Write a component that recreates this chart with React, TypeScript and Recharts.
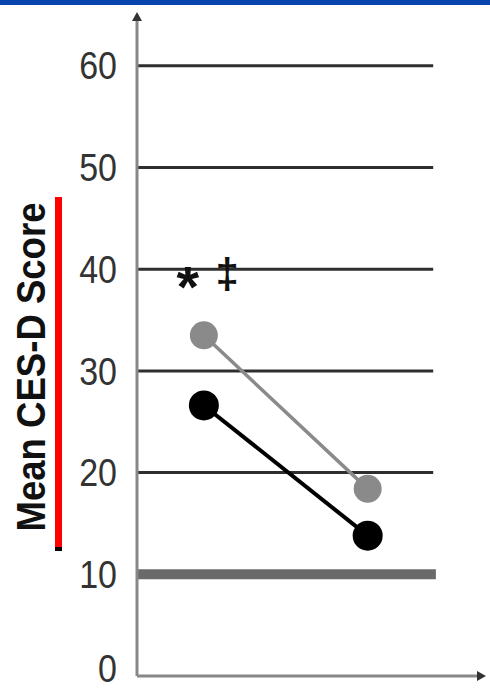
import { LineChart, Line, XAxis, YAxis, ReferenceLine, ReferenceDot } from "recharts";

// time points along the x axis (baseline, follow-up)
const timePoints = [1, 3.45];
const grayScores = [33.5, 18.4];
const blackScores = [26.6, 13.8];
const yTicks = [0, 10, 20, 30, 40, 50, 60];
const gridValues = [20, 30, 40, 50, 60];
const cutoffValue = 10;
const annotations = [
  { x: 0.76, y: 39.3, text: "*" },
  { x: 1.35, y: 39.3, text: "‡" },
];

const data = timePoints.map((t, i) => ({ t, gray: grayScores[i], black: blackScores[i] }));

const FONT = "'Liberation Sans', Arial, sans-serif";

const YTick = (props: any) => {
  const { x, y, payload } = props;
  // keep the bottom label inside the picture
  const ty = Math.min(y, 668);
  return (
    <text
      transform={`translate(${x},${ty}) scale(1,1.12)`}
      textAnchor="end"
      dy="0.36em"
      fontSize={34}
      fontFamily={FONT}
      fill="#333"
    >
      {payload.value}
    </text>
  );
};

const AxisTitle = () => (
  <g>
    <text
      transform="translate(45,367) rotate(-90)"
      textAnchor="middle"
      fontSize={41}
      fontWeight="bold"
      fontFamily={FONT}
      fill="#111"
      textLength={329}
      lengthAdjust="spacingAndGlyphs"
    >
      Mean CES-D Score
    </text>
    <rect x={55} y={197} width={7} height={351} fill="#ff0000" />
    <rect x={55} y={547} width={7} height={4} fill="#000" />
  </g>
);

const Mark = (text: string) => (p: any) => {
  const star = text === "*";
  return (
    <text
      x={p.cx}
      y={p.cy}
      dy={star ? 31 : 12}
      textAnchor="middle"
      fontSize={star ? 58 : 42}
      fontWeight="bold"
      fontFamily={FONT}
      fill="#111"
    >
      {text}
    </text>
  );
};

export default function App() {
  return (
    <div style={{ position: "fixed", left: 0, top: 0, width: 490, height: 689, background: "#fff" }}>
      <svg width={0} height={0} style={{ position: "absolute" }}>
        <defs>
          <marker id="arr" markerUnits="userSpaceOnUse" markerWidth={10} markerHeight={10} refX={1} refY={5} orient="auto-start-reverse">
            <path d="M0,0 L9,5 L0,10 Z" fill="#333" />
          </marker>
        </defs>
      </svg>
      <div style={{ height: 5, background: "#0645ad" }} />
      <div style={{ position: "absolute", left: 0, top: 0 }}>
        <LineChart width={490} height={689} data={data} margin={{ top: 20, right: 12, bottom: 0, left: 77 }}>
          <XAxis
            dataKey="t"
            type="number"
            domain={[0, 5.1]}
            tick={false}
            tickLine={false}
            height={13}
            axisLine={{ stroke: "#888", strokeWidth: 3, markerEnd: "url(#arr)" }}
          />
          <YAxis
            type="number"
            domain={[0, 64.5]}
            ticks={yTicks}
            width={60}
            tickLine={false}
            tickSize={0}
            tickMargin={20}
            tick={<YTick />}
            axisLine={{ stroke: "#888", strokeWidth: 3, markerStart: "url(#arr)" }}
            label={{ content: <AxisTitle /> }}
          />
          {gridValues.map((v) => (
            <ReferenceLine
              key={v}
              segment={[{ x: 0, y: v }, { x: 4.43, y: v }]}
              stroke="#2e2e2e"
              strokeWidth={3}
            />
          ))}
          <ReferenceLine
            segment={[{ x: 0, y: cutoffValue }, { x: 4.47, y: cutoffValue }]}
            stroke="#6a6a6a"
            strokeWidth={10}
          />
          {annotations.map((a) => (
            <ReferenceDot key={a.text} x={a.x} y={a.y} r={0} shape={Mark(a.text)} />
          ))}
          <Line
            dataKey="gray"
            stroke="#8a8a8a"
            strokeWidth={3.5}
            dot={{ r: 14, fill: "#8a8a8a", stroke: "none" }}
            isAnimationActive={false}
          />
          <Line
            dataKey="black"
            stroke="#000"
            strokeWidth={4}
            dot={{ r: 15, fill: "#000", stroke: "none" }}
            isAnimationActive={false}
          />
        </LineChart>
      </div>
    </div>
  );
}
